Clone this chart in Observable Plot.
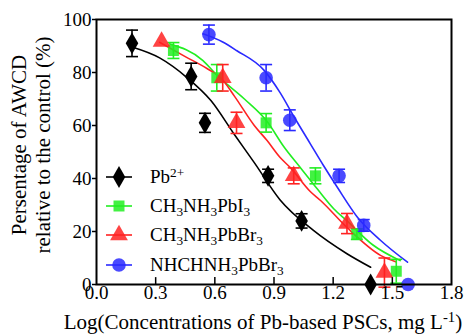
<!DOCTYPE html>
<html><head><meta charset="utf-8">
<script src="https://cdn.jsdelivr.net/npm/d3@7"></script>
<script src="https://cdn.jsdelivr.net/npm/@observablehq/plot@0.6"></script>
<style>body{margin:0;background:#fff}#c{position:relative;width:467px;height:335px}
#c svg text{font-family:"Liberation Serif",serif}
</style>
</head><body><div id="c"></div>
<script>
// ---- data ----
const seriesNames = ["Pb2+", "CH3NH3PbI3", "CH3NH3PbBr3", "NHCHNH3PbBr3"];
const seriesColors = ["#000000", "#22ee22", "#ff2222", "#2a2aff"];
const seriesSymbols = ["diamond", "square", "triangle", "circle"];

const pbX = [0.18, 0.48, 0.55, 0.87, 1.04, 1.39];
const pbY = [91, 78.5, 61, 41, 24, 0];
const pbE = [5, 5, 3.6, 2.5, 2.7, 0];

const miX = [0.39, 0.61, 0.86, 1.11, 1.32, 1.52];
const miY = [88.3, 78, 61, 41, 19, 5];
const miE = [3, 5, 3.5, 3, 2, 4.5];

const mbX = [0.33, 0.64, 0.71, 1.0, 1.27, 1.46];
const mbY = [91.7, 78, 61, 41, 23, 4.5];
const mbE = [0, 5, 4, 3, 3.8, 5.5];

const fbX = [0.57, 0.86, 0.98, 1.23, 1.355, 1.58];
const fbY = [94.3, 78, 62, 41, 22.3, 0];
const fbE = [3.6, 5, 3.9, 2.5, 2.2, 0];

// fitted curves, read point by point
const pbCurveX = [0.18, 0.32, 0.46, 0.58, 0.70, 0.80, 0.93, 1.10, 1.27, 1.39];
const pbCurveY = [89.6, 85.5, 78, 69.4, 56.5, 46, 32, 20.4, 11.6, 6.5];
const miCurveX = [0.37, 0.54, 0.61, 0.75, 0.865, 0.95, 1.035, 1.12, 1.204, 1.27, 1.40, 1.54];
const miCurveY = [90.8, 84.5, 79, 70, 61.5, 52, 44, 36, 28.5, 24, 15, 9];
const mbCurveX = [0.32, 0.45, 0.56, 0.63, 0.70, 0.80, 0.865, 0.93, 0.984, 1.085, 1.136, 1.27, 1.44, 1.52];
const mbCurveY = [91.4, 86, 81.5, 78, 71, 60, 54.3, 48, 44, 35, 31.7, 21.5, 11, 8.5];
const fbCurveX = [0.54, 0.64, 0.71, 0.85, 0.93, 1.0, 1.085, 1.15, 1.221, 1.323, 1.441, 1.577];
const fbCurveY = [94.6, 91.5, 88.3, 80.8, 72.5, 63.5, 53, 45, 36.7, 25.4, 16.6, 8.4];

const xTicks = [0, 0.3, 0.6, 0.9, 1.2, 1.5, 1.8];
const yTicks = [0, 20, 40, 60, 80, 100];

// ---- build tables ----
const pts = [], curves = [];
[[pbX,pbY,pbE],[miX,miY,miE],[mbX,mbY,mbE],[fbX,fbY,fbE]].forEach(([xs,ys,es],s) => {
  xs.forEach((x,i) => pts.push({s, x, y: ys[i], e: es[i]}));
});
[[pbCurveX,pbCurveY],[miCurveX,miCurveY],[mbCurveX,mbCurveY],[fbCurveX,fbCurveY]].forEach(([xs,ys],s) => {
  xs.forEach((x,i) => curves.push({s, x, y: ys[i]}));
});
const errs = pts.filter(d => d.e > 0);

const capSymbol = {draw(ctx, size){ const w = Math.sqrt(size / Math.PI); ctx.moveTo(-w,0); ctx.lineTo(w,0); }};
const FONT = "Liberation Serif";
const symR = [6.6, 6.2, 6.6, 6.8];

const marks = [];
seriesNames.forEach((n, s) => {
  marks.push(Plot.line(curves.filter(d => d.s === s), {x: "x", y: "y", stroke: seriesColors[s], strokeWidth: 1.6, curve: "monotone-x"}));
});
seriesNames.forEach((n, s) => {
  const P = pts.filter(d => d.s === s);
  marks.push(Plot.dot(P, {x: "x", y: "y", symbol: seriesSymbols[s], r: symR[s], fill: seriesColors[s], fillOpacity: s === 0 ? 1 : 0.85, stroke: "none"}));
  const E = errs.filter(d => d.s === s);
  marks.push(Plot.ruleX(E, {x: "x", y1: d => d.y - d.e, y2: d => d.y + d.e, stroke: seriesColors[s], strokeWidth: 1.6}));
  marks.push(Plot.dot(E, {x: "x", y: d => d.y + d.e, symbol: capSymbol, r: 6, stroke: seriesColors[s], strokeWidth: 1.6}));
  marks.push(Plot.dot(E, {x: "x", y: d => d.y - d.e, symbol: capSymbol, r: 6, stroke: seriesColors[s], strokeWidth: 1.6}));
});

const chart = Plot.plot({
  width: 467, height: 335,
  marginLeft: 96, marginRight: 16, marginTop: 19, marginBottom: 51,
  style: {fontFamily: FONT, fontSize: "19px", color: "black", background: "white"},
  x: {domain: [0, 1.8]},
  y: {domain: [0, 100]},
  marks: [
    ...marks,
    Plot.ruleX(xTicks.slice(1, -1), {x: d => d, y1: 0, y2: 2.6, stroke: "black", strokeWidth: 1.5}),
    Plot.axisX({ticks: xTicks, tickFormat: d => d.toFixed(1), tickSize: 0, tickPadding: 1, label: null, fontSize: 19}),
    Plot.axisY({ticks: yTicks, tickSize: 4, tickPadding: 1, label: null, fontSize: 19, strokeWidth: 1.5}),
    Plot.frame({stroke: "black", strokeWidth: 2})
  ]
});
document.getElementById("c").appendChild(chart);

// ---- titles & legend (layout) ----
const svg = d3.select(chart);
function rich(sel, parts, baseSize) {
  parts.forEach(([t, kind]) => {
    const ts = sel.append("tspan").text(t);
    if (kind === "sub") ts.attr("font-size", baseSize * 0.7).attr("dy", "0.3em");
    if (kind === "sup") ts.attr("font-size", baseSize * 0.7).attr("dy", "-0.45em");
    if (kind === "back-sub") ts.attr("dy", "-0.21em");
    if (kind === "back-sup") ts.attr("dy", "0.315em");
  });
}
// x title
const xt = svg.append("text").attr("x", 263).attr("y", 329).attr("text-anchor", "middle")
  .attr("font-family", FONT).attr("font-size", 21).attr("fill", "black");
rich(xt, [["Log(Concentrations of Pb-based PSCs, mg L"], ["-1", "sup"], [")", "back-sup"]], 21);
// y title
const yt = svg.append("g").attr("transform", "translate(0,145) rotate(-90)");
yt.append("text").attr("x", 0).attr("y", 26).attr("text-anchor", "middle").attr("font-family", FONT)
  .attr("font-size", 21).attr("fill", "black").text("Persentage of AWCD");
yt.append("text").attr("x", 0).attr("y", 50).attr("text-anchor", "middle").attr("font-family", FONT)
  .attr("font-size", 21).attr("fill", "black").text("relative to the control (%)");

// legend
const legendText = [
  [["Pb"], ["2+", "sup"]],
  [["CH"], ["3", "sub"], ["NH", "back-sub"], ["3", "sub"], ["PbI", "back-sub"], ["3", "sub"]],
  [["CH"], ["3", "sub"], ["NH", "back-sub"], ["3", "sub"], ["PbBr", "back-sub"], ["3", "sub"]],
  [["NHCHNH"], ["3", "sub"], ["PbBr", "back-sub"], ["3", "sub"]]
];
const legendY = [177, 206, 235, 265];
const symMap = {diamond: d3.symbolDiamond, square: d3.symbolSquare, triangle: d3.symbolTriangle, circle: d3.symbolCircle};
seriesNames.forEach((n, s) => {
  const g = svg.append("g").attr("transform", `translate(0,${legendY[s]})`);
  g.append("line").attr("x1", 106).attr("x2", 132).attr("stroke", seriesColors[s]).attr("stroke-width", 1.6);
  g.append("path").attr("transform", "translate(119,0)")
    .attr("d", d3.symbol(symMap[seriesSymbols[s]], Math.PI * symR[s] * symR[s])())
    .attr("fill", seriesColors[s]).attr("fill-opacity", s === 0 ? 1 : 0.85);
  const t = g.append("text").attr("x", 150).attr("y", 6).attr("text-anchor", "start")
    .attr("font-family", FONT).attr("font-size", 19).attr("fill", "black");
  rich(t, legendText[s], 19);
});
</script></body></html>
